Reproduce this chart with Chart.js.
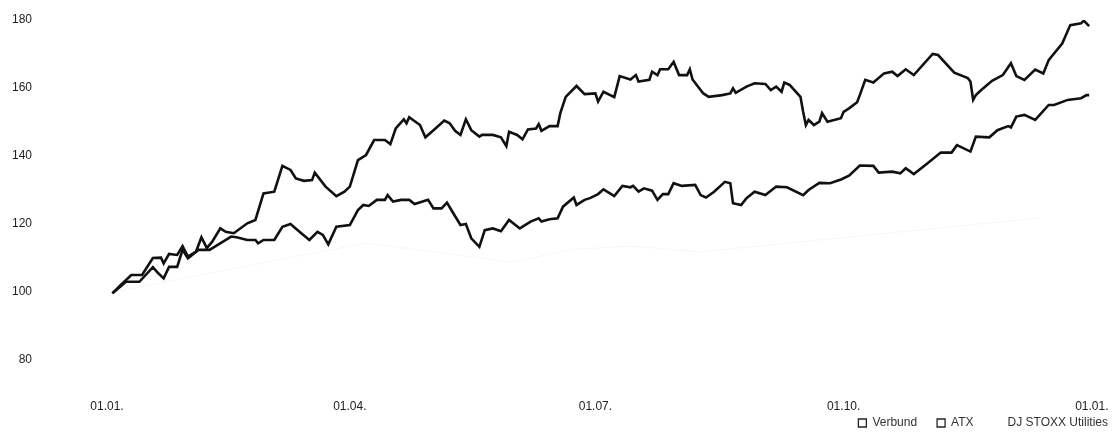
<!DOCTYPE html>
<html>
<head>
<meta charset="utf-8">
<script src="https://cdn.jsdelivr.net/npm/chart.js@4/dist/chart.umd.min.js"></script>
<style>
  html, body { margin: 0; padding: 0; background: #fff; }
  #wrap { width: 1114px; height: 432px; }
</style>
</head>
<body>
<div id="wrap"><canvas id="chart"></canvas></div>
<script>
// Tage im Jahr (0 = 01.01.) und Indexwerte (Start = 100)
const verbundDays = [2, 5, 9, 13, 17, 20, 21, 23, 26, 28, 30, 33, 35, 37, 39, 42, 44, 47, 52, 55, 58, 62, 65, 68, 70, 73, 76, 77, 81, 85, 88, 90, 93, 96, 99, 103, 105, 107, 110, 111, 112, 116, 118, 121, 125, 127, 129, 131, 133, 135, 138, 139, 143, 146, 148, 149, 152, 154, 156, 159, 160, 161, 164, 167, 168, 170, 174, 177, 181, 182, 184, 188, 190, 194, 196, 197, 201, 202, 204, 205, 208, 210, 212, 215, 216, 217, 221, 223, 228, 231, 232, 233, 237, 240, 244, 246, 248, 250, 251, 253, 257, 258, 259, 260, 262, 264, 265, 267, 272, 273, 275, 278, 279, 281, 284, 288, 291, 293, 296, 299, 306, 308, 314, 319, 320, 321, 322, 324, 328, 332, 335, 337, 340, 344, 347, 349, 350, 354, 357, 361, 362, 364];
const verbund = [99.6, 102, 105, 105, 110, 110.1, 108.4, 111.2, 110.9, 113.5, 110.4, 111.9, 116.1, 112.9, 114.8, 118.7, 117.7, 117.3, 120.2, 121.2, 129, 129.5, 137.1, 135.9, 133.4, 132.7, 132.9, 135.1, 131, 128.2, 129.5, 131, 138.8, 140.3, 144.7, 144.7, 143.5, 148.1, 150.8, 149.6, 151.4, 149.1, 145.5, 147.6, 150.4, 149.6, 147.4, 146.2, 150.8, 147.6, 145.7, 146.2, 146.2, 145.5, 142.9, 147.1, 146.2, 144.9, 147.8, 148.1, 149.4, 147.4, 148.8, 148.8, 152.6, 157.4, 160.6, 158.2, 158.4, 156, 158.9, 157.3, 163.5, 162.5, 163.8, 161.9, 162.4, 164.8, 163.8, 165.5, 165.5, 167.7, 163.8, 163.8, 165.5, 162.5, 158.4, 157.4, 157.9, 158.4, 159.9, 158.6, 160.4, 161.4, 161.2, 159.4, 160.4, 158.9, 161.6, 160.9, 157.4, 153, 149.1, 150.6, 149.1, 150.1, 152.6, 150.1, 151.1, 153, 154, 155.8, 157.9, 162.4, 161.6, 164.3, 164.8, 163.5, 165.5, 163.8, 170, 169.7, 164.5, 162.9, 161.9, 156.5, 157.9, 159.4, 162.1, 163.8, 167.3, 163.5, 162.4, 165.4, 164.3, 168.2, 169.2, 173.1, 178.5, 179, 179.8, 178.2];

const atxDays = [2, 5, 7, 12, 17, 19, 21, 23, 26, 28, 30, 34, 38, 43, 46, 48, 52, 55, 56, 58, 62, 65, 68, 72, 75, 78, 80, 82, 85, 90, 93, 95, 97, 100, 103, 104, 106, 109, 112, 114, 119, 121, 124, 126, 128, 131, 133, 135, 138, 140, 143, 146, 149, 153, 157, 160, 161, 164, 167, 169, 173, 174, 177, 179, 182, 184, 188, 191, 194, 195, 197, 199, 202, 204, 206, 208, 210, 213, 218, 220, 222, 225, 229, 231, 232, 235, 237, 240, 244, 248, 252, 258, 260, 264, 268, 272, 275, 279, 284, 286, 291, 294, 296, 299, 304, 309, 313, 315, 320, 322, 327, 330, 334, 335, 337, 340, 344, 349, 351, 356, 361, 363, 364];
const atx = [99.6, 101.6, 103, 103, 107.3, 105.5, 104, 107.4, 107.4, 112.4, 109.9, 112.4, 112.4, 114.8, 116.3, 116.1, 115.3, 115.3, 114.3, 115.3, 115.3, 119.2, 120, 117.3, 115.3, 117.7, 116.8, 114, 119.2, 119.7, 124.1, 125.6, 125.3, 127.1, 127.1, 128.5, 126.6, 127.1, 127.1, 125.9, 127.1, 124.6, 124.6, 126.3, 123.6, 119.7, 120, 115.8, 113.3, 118.2, 118.7, 117.9, 121.2, 118.7, 120.7, 121.7, 120.7, 121.4, 121.7, 125.1, 127.8, 125.6, 127.1, 127.6, 128.8, 130.2, 128.2, 131.2, 130.8, 131.2, 129.5, 130.5, 129.8, 127.1, 128.8, 128.8, 132, 131.2, 131.5, 128.5, 127.8, 129.5, 132.4, 132, 126.1, 125.6, 127.6, 129.5, 128.5, 131, 130.8, 128.5, 130, 132.1, 132, 133.1, 134.2, 137.2, 137.1, 135.1, 135.4, 134.9, 136.4, 134.7, 137.8, 141, 141, 143.2, 141.3, 145.7, 145.5, 147.6, 148.8, 148.4, 151.6, 152.1, 150.6, 155, 155, 156.5, 157, 157.9, 157.9];

// DJ STOXX Utilities: im Original fast unsichtbar (sehr helle Linie)
const stoxxDays = [2, 96, 150, 173, 181, 193, 199, 210, 220, 264, 346];
const stoxx = [100, 114.4, 108.8, 112.6, 112.9, 113.5, 113.2, 112.4, 111.8, 115.3, 121.8];

const tickDays = [0, 90, 181, 273, 365];
const tickLabels = ["01.01.", "01.04.", "01.07.", "01.10.", "01.01."];
const seriesNames = ["Verbund", "ATX", "DJ STOXX Utilities"];

function toPoints(days, vals) {
    return days.map((d, i) => ({ x: d, y: vals[i] }));
}

const FONT = { family: "'Liberation Sans', Arial, sans-serif", size: 12 };

const config = {
    type: "line",
    data: {
        datasets: [
            {
                label: seriesNames[0],
                data: toPoints(verbundDays, verbund),
                borderColor: "#111",
                borderWidth: 2.6,
                pointRadius: 0,
                tension: 0
            },
            {
                label: seriesNames[1],
                data: toPoints(atxDays, atx),
                borderColor: "#111",
                borderWidth: 2.6,
                pointRadius: 0,
                tension: 0
            },
            {
                label: seriesNames[2],
                data: toPoints(stoxxDays, stoxx),
                borderColor: "#f6f6f6",
                borderWidth: 1,
                pointRadius: 0,
                tension: 0
            }
        ]
    },
    options: {
        animation: false,
        responsive: true,
        maintainAspectRatio: false,
        layout: { padding: { left: 0, right: -14, top: 20, bottom: -7 } },
        plugins: {
            tooltip: { enabled: false },
            legend: {
                position: "bottom",
                align: "end",
                labels: {
                    font: FONT,
                    color: "#333",
                    boxWidth: 8,
                    boxHeight: 8,
                    padding: 20,
                    generateLabels: function(chart) {
                        return chart.data.datasets.map((ds, i) => ({
                            text: ds.label,
                            fillStyle: "#fff",
                            strokeStyle: i < 2 ? "#222" : "rgba(0,0,0,0)",
                            lineWidth: 1.3,
                            fontColor: "#333",
                            hidden: false,
                            datasetIndex: i
                        }));
                    }
                }
            }
        },
        scales: {
            x: {
                type: "linear",
                min: 0,
                max: 373.2,
                grid: { display: false, drawTicks: false },
                border: { display: false },
                afterBuildTicks: function(scale) {
                    scale.ticks = tickDays.map(v => ({ value: v }));
                },
                // schmale Achse, Beschriftung per mirror weit unterhalb (wird so nicht abgeschnitten)
                afterFit: function(scale) { scale.height = 37; },
                ticks: {
                    autoSkip: false,
                    maxRotation: 0,
                    mirror: true,
                    padding: -54,
                    font: FONT,
                    color: "#222",
                    callback: function(value) {
                        const idx = tickDays.indexOf(value);
                        return idx >= 0 ? tickLabels[idx] : "";
                    }
                }
            },
            y: {
                min: 80,
                max: 180,
                grid: { display: false, drawTicks: false },
                border: { display: false },
                afterFit: function(scale) {
                    scale.width = 107;
                    scale.paddingTop = 0;
                    scale.paddingBottom = 0;
                },
                ticks: {
                    stepSize: 20,
                    padding: 75,
                    font: FONT,
                    color: "#222"
                }
            }
        }
    }
};

new Chart(document.getElementById("chart").getContext("2d"), config);
</script>
</body>
</html>
